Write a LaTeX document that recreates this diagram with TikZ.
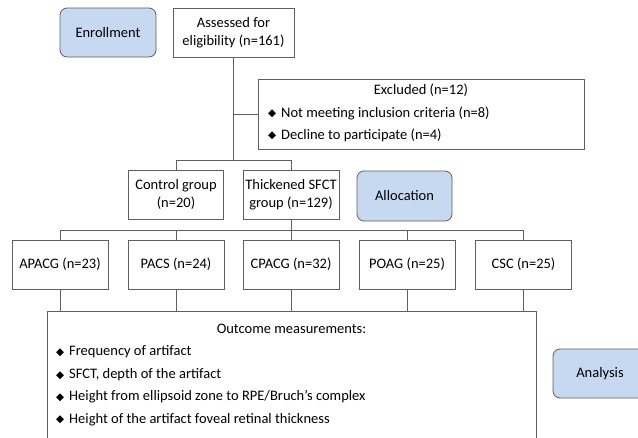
\documentclass[tikz,border=0pt]{standalone}
\usepackage{fontspec}
\setmainfont{Carlito}
\newfontfamily\symfont{DejaVu Sans}
\newcommand{\bul}{\makebox[13pt][l]{\raisebox{0.3pt}{\symfont\fontsize{10.5}{10.5}\selectfont ◆}}}
\definecolor{lineg}{HTML}{5F5F5F}
\definecolor{phasefill}{HTML}{C6D9F1}
\tikzset{
  box/.style={draw=lineg, line width=0.8pt, fill=white, align=center, inner sep=0pt},
  phase/.style={draw=lineg, line width=0.8pt, fill=phasefill, rounded corners=7pt, align=center, inner sep=0pt},
  conn/.style={draw=lineg, line width=0.8pt},
  item/.style={anchor=west, inner sep=0pt},
}
\begin{document}
\begin{tikzpicture}[x=1pt, y=-1pt, font=\fontsize{14.5}{17.5}\selectfont]
\path[use as bounding box, clip] (0,0) rectangle (638,437);
\fill[white] (0,0) rectangle (638,437);

% nodes
\node[phase, minimum width=96pt, minimum height=49pt] (enroll) at (108,32.5) {Enrollment};
\node[box, minimum width=121pt, minimum height=49pt] (assess) at (233.5,32.5) {Assessed for\\eligibility (n=161)};
\node[box, minimum width=326pt, minimum height=70pt] (excl) at (421,114) {};
\node[inner sep=0pt] (exclt) at (421,90) {Excluded (n=12)};
\node[item] (ex1) at (268,113) {\bul Not meeting inclusion criteria (n=8)};
\node[item] (ex2) at (268,135) {\bul Decline to participate (n=4)};

\node[box, minimum width=95pt, minimum height=49pt] (ctrl) at (176,194.5) {Control group\\(n=20)};
\node[box, minimum width=96pt, minimum height=49pt] (thick) at (291,194.5) {Thickened SFCT\\group (n=129)};
\node[phase, minimum width=95pt, minimum height=50pt] (alloc) at (404.5,196) {Allocation};

\node[box, minimum width=96pt, minimum height=49pt] (apacg) at (60,264.5) {APACG (n=23)};
\node[box, minimum width=96pt, minimum height=49pt] (pacs) at (176,264.5) {PACS (n=24)};
\node[box, minimum width=96pt, minimum height=49pt] (cpacg) at (291,264.5) {CPACG (n=32)};
\node[box, minimum width=96pt, minimum height=49pt] (poag) at (407,264.5) {POAG (n=25)};
\node[box, minimum width=96pt, minimum height=49pt] (csc) at (523.5,264.5) {CSC (n=25)};

\node[box, minimum width=489pt, minimum height=149pt] (outc) at (291.5,385.5) {};
\node[inner sep=0pt] (outt) at (291.5,329) {Outcome measurements:};
\node[item] (o1) at (56,352) {\bul Frequency of artifact};
\node[item] (o2) at (56,374.5) {\bul SFCT, depth of the artifact};
\node[item] (o3) at (56,397) {\bul Height from ellipsoid zone to RPE/Bruch’s complex};
\node[item] (o4) at (56,419.5) {\bul Height of the artifact foveal retinal thickness};

\node[phase, minimum width=94pt, minimum height=49pt] (anal) at (600,373.5) {Analysis};

% connectors
\coordinate (bus1) at (0,160);
\coordinate (bus2) at (0,230);
\draw[conn] (assess.south) -- (assess.south |- bus1);
\draw[conn] (assess.south |- excl.west) -- (excl.west);
\draw[conn] (ctrl.north) -- (ctrl.north |- bus1) -- (thick.north |- bus1) -- (thick.north);
\draw[conn] (thick.south) -- (thick.south |- bus2);
\draw[conn] (apacg.north) -- (apacg.north |- bus2) -- (csc.north |- bus2) -- (csc.north);
\draw[conn] (pacs.north) -- (pacs.north |- bus2);
\draw[conn] (cpacg.north) -- (cpacg.north |- bus2);
\draw[conn] (poag.north) -- (poag.north |- bus2);
\foreach \n in {apacg,pacs,cpacg,poag,csc}
  \draw[conn] (\n.south) -- (\n.south |- outc.north);
\end{tikzpicture}
\end{document}
